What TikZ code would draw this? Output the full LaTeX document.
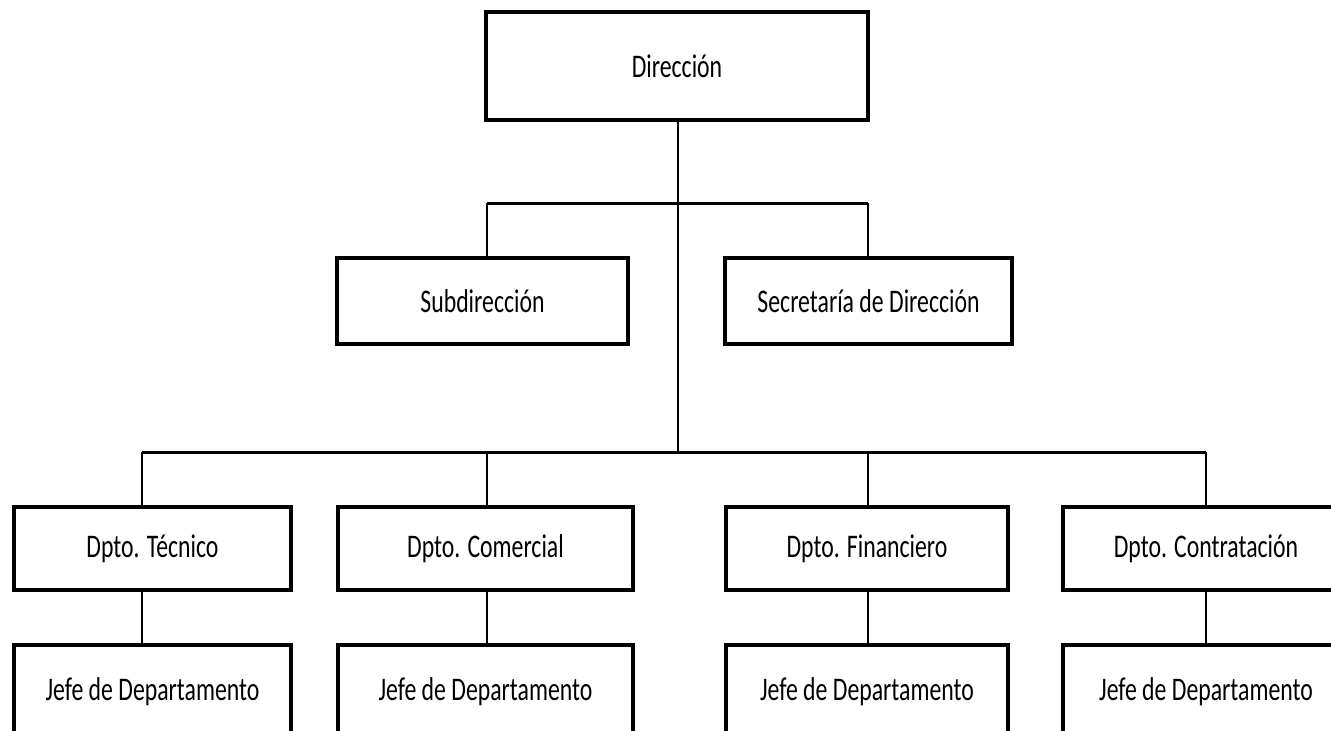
\documentclass[tikz,border=0pt]{standalone}
\usepackage{fontspec}
\setmainfont{Carlito}[FakeStretch=0.72]
\begin{document}
\begin{tikzpicture}[x=1pt,y=-1pt,
  box/.style={draw=black,line width=3.2pt,fill=white,inner sep=0pt,
    font=\fontsize{33}{40}\selectfont},
  conn/.style={line width=2.4pt},
  bus/.style={line width=3pt}]
\useasboundingbox (0,0) rectangle (1331,731);
\clip (0,0) rectangle (1331,731);
\fill[white] (0,0) rectangle (1331,731);
% top
\node[box,minimum width=382pt,minimum height=108pt] (dir) at (677,66) {Dirección};
\node[box,minimum width=291pt,minimum height=86pt] (sub) at (482.5,301) {Subdirección};
\node[box,minimum width=287pt,minimum height=86pt] (sec) at (868.5,301) {Secretaría de Dirección};
% departments
\node[box,minimum width=277pt,minimum height=83pt] (tec) at (152.5,548.5) {Dpto. Técnico};
\node[box,minimum width=295pt,minimum height=83pt] (com) at (485.5,548.5) {Dpto. Comercial};
\node[box,minimum width=282pt,minimum height=83pt] (fin) at (867,548.5) {Dpto. Financiero};
\node[box,minimum width=286pt,minimum height=83pt] (con) at (1206,548.5) {Dpto. Contratación};
% heads
\node[box,minimum width=277pt,minimum height=94pt] (jtec) at (152.5,692) {Jefe de Departamento};
\node[box,minimum width=295pt,minimum height=94pt] (jcom) at (485.5,692) {Jefe de Departamento};
\node[box,minimum width=282pt,minimum height=94pt] (jfin) at (867,692) {Jefe de Departamento};
\node[box,minimum width=286pt,minimum height=94pt] (jcon) at (1206,692) {Jefe de Departamento};
% junctions
\coordinate (hub1) at (678,203);
\coordinate (b1l) at (487,203);
\coordinate (b1r) at (868,203);
\coordinate (hub2) at (678,452);
\coordinate (b2a) at (142,452);
\coordinate (b2b) at (487,452);
\coordinate (b2c) at (868,452);
\coordinate (b2d) at (1206,452);
% connectors
\draw[conn] (hub1 |- dir.south) -- (hub2);
\draw[bus] (b1l) -- (b1r);
\draw[conn] (b1l) -- (b1l |- sub.north);
\draw[conn] (b1r) -- (b1r |- sec.north);
\draw[bus] (b2a) -- (b2d);
\draw[conn] (b2a) -- (b2a |- tec.north);
\draw[conn] (b2b) -- (b2b |- com.north);
\draw[conn] (b2c) -- (b2c |- fin.north);
\draw[conn] (b2d) -- (b2d |- con.north);
\draw[conn] (b2a |- tec.south) -- (b2a |- jtec.north);
\draw[conn] (b2b |- com.south) -- (b2b |- jcom.north);
\draw[conn] (b2c |- fin.south) -- (b2c |- jfin.north);
\draw[conn] (b2d |- con.south) -- (b2d |- jcon.north);
\end{tikzpicture}
\end{document}
